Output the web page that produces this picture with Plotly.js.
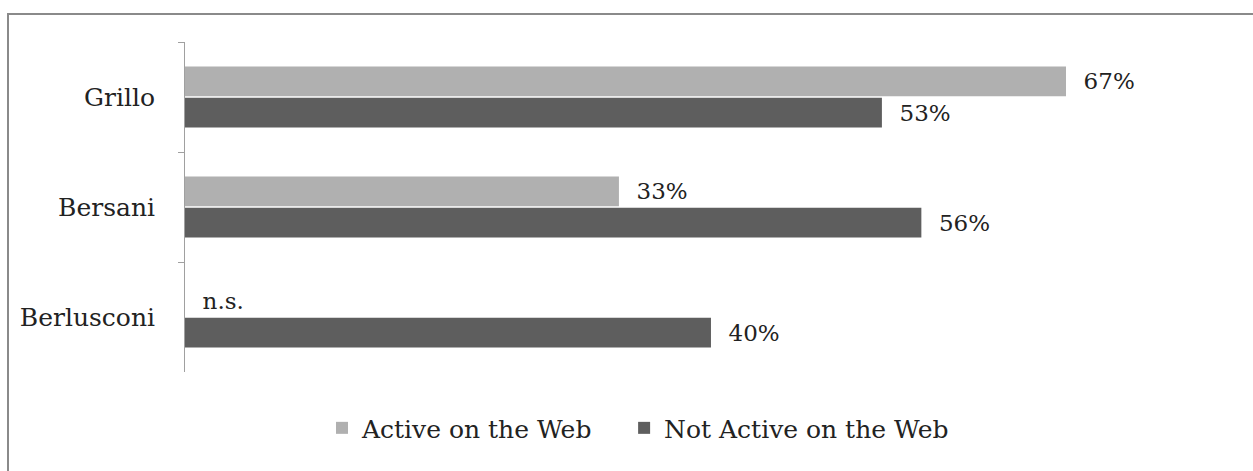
<!DOCTYPE html>
<html>
<head>
<meta charset="utf-8">
<script src="https://cdn.plot.ly/plotly-3.0.1.min.js"></script>
<style>
  html, body { margin: 0; padding: 0; background: #fff; }
  #frame { position: absolute; left: 7px; top: 13px; width: 1246px; height: 458px;
           border-left: 2px solid #8a8a8a; border-top: 2px solid #8a8a8a; box-sizing: border-box; }
  #chart { position: absolute; left: 0; top: 0; width: 1253px; height: 471px; }
</style>
</head>
<body>
<div id="frame"></div>
<div id="chart"></div>
<script>
const categories = ['Grillo', 'Bersani', 'Berlusconi'];
const seriesNames = ['Active on the Web', 'Not Active on the Web'];
const activeValues = [67, 33, 0];
const activeLabels = ['67%', '33%', 'n.s.'];
const notActiveValues = [53, 56, 40];
const notActiveLabels = ['53%', '56%', '40%'];

const serif = 'DejaVu Serif, Liberation Serif, serif';

const traces = [
  {
    type: 'bar', orientation: 'h', name: seriesNames[0], legend: 'legend',
    y: categories, x: activeValues, text: activeLabels,
    texttemplate: '\u00a0\u00a0%{text}', textposition: 'outside', cliponaxis: false,
    textfont: {family: serif, size: 23, color: '#222'},
    marker: {color: '#b0b0b0'}, hoverinfo: 'skip'
  },
  {
    type: 'bar', orientation: 'h', name: seriesNames[1], legend: 'legend2',
    y: categories, x: notActiveValues, text: notActiveLabels,
    texttemplate: '\u00a0\u00a0%{text}', textposition: 'outside', cliponaxis: false,
    textfont: {family: serif, size: 23, color: '#222'},
    marker: {color: '#5e5e5e'}, hoverinfo: 'skip'
  }
];

const legendBase = {
  orientation: 'h', xanchor: 'left', y: -0.17, yanchor: 'middle',
  font: {family: serif, size: 25, color: '#222'}, itemwidth: 30,
  bgcolor: 'rgba(0,0,0,0)'
};

const layout = {
  width: 1253, height: 471,
  margin: {l: 185, r: 20, t: 42, b: 99},
  paper_bgcolor: 'rgba(0,0,0,0)', plot_bgcolor: 'rgba(0,0,0,0)',
  barmode: 'group', bargap: 0.43, bargroupgap: 0.05,
  font: {family: serif, color: '#222'},
  xaxis: {range: [0, 79.7], visible: false, fixedrange: true},
  yaxis: {
    autorange: 'reversed', showline: true, linecolor: '#a0a0a0', linewidth: 1,
    ticks: 'outside', ticklen: 6, tickcolor: '#a0a0a0', tickson: 'boundaries',
    ticklabelstandoff: 24,
    tickfont: {family: serif, size: 25, color: '#222'},
    showgrid: false, zeroline: false, fixedrange: true
  },
  showlegend: true,
  legend: Object.assign({}, legendBase, {x: 0.1307}),
  legend2: Object.assign({}, legendBase, {x: 0.419})
};

Plotly.newPlot('chart', traces, layout, {staticPlot: true, displayModeBar: false});
</script>
</body>
</html>
